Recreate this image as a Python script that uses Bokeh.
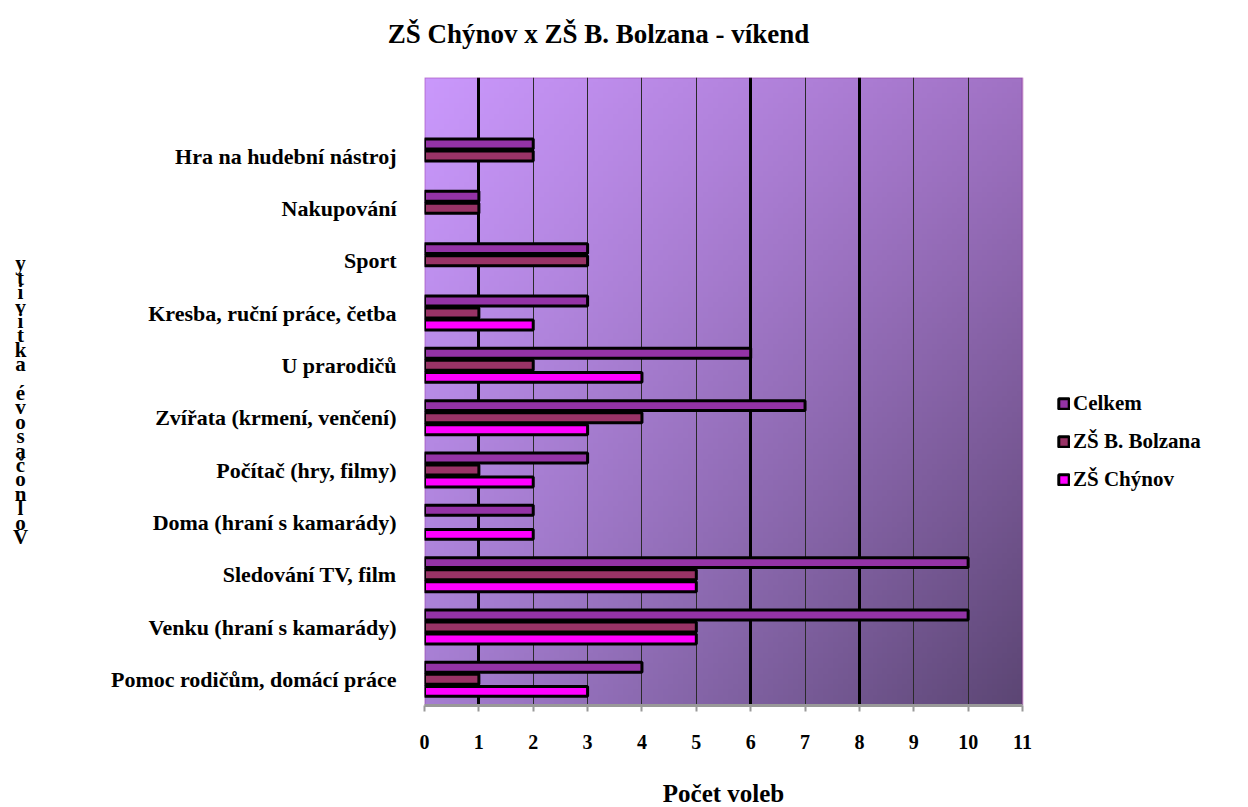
import numpy as np
from bokeh.plotting import figure
from bokeh.layouts import column, row
from bokeh.models import (ColumnDataSource, FixedTicker, Grid, Legend, LegendItem, Label,
                          BoxAnnotation)
from bokeh.embed import file_html
from bokeh.resources import INLINE

# ---- data (bottom to top) ----
categories = ["Pomoc rodičům, domácí práce", "Venku (hraní s kamarády)", "Sledování TV, film",
              "Doma (hraní s kamarády)", "Počítač (hry, filmy)", "Zvířata (krmení, venčení)",
              "U prarodičů", "Kresba, ruční práce, četba", "Sport", "Nakupování",
              "Hra na hudební nástroj"]
celkem = [4, 10, 10, 2, 3, 7, 6, 3, 3, 1, 2]
bolzana = [1, 5, 5, 0, 1, 4, 2, 1, 3, 1, 2]
chynov = [3, 5, 5, 2, 2, 3, 4, 2, 0, 0, 0]
series_names = ["Celkem", "ZŠ B. Bolzana", "ZŠ Chýnov"]
x_ticks = list(range(0, 12))
title_text = "ZŠ Chýnov x ZŠ B. Bolzana - víkend"
x_title = "Počet voleb"
y_title = "Volnočasové aktivity"

FONT = "Liberation Serif"
colors = ["#9433a6", "#993366", "#ff00ff"]
offsets = [0.23, 0.0, -0.23]

TOTAL_W = 1240
TITLE_H = 73
LEFT_W = 40
MAIN_H = 690
BOTTOM_H = 807 - TITLE_H - MAIN_H
MAIN_W = TOTAL_W - LEFT_W
BORDER_L = 384
PLOT_W = 598          # pixel width of the 0..11 plot area
PLOT_H = 628
X_MAX = 11

def strip(w, h):
    f = figure(width=w, height=h, x_range=(0, w), y_range=(0, h),
               x_axis_type=None, y_axis_type=None, output_backend="svg",
               toolbar_location=None, min_border=0)
    f.outline_line_color = None
    return f

# ---- title strip ----
tf = strip(TOTAL_W, TITLE_H)
tf.add_layout(Label(x=598, y=TITLE_H - 33, text=title_text, text_align="center",
                    text_baseline="middle", text_font=FONT, text_font_style="bold",
                    text_font_size="27px", text_color="black"))

# ---- left strip with stacked y title ----
lf = strip(LEFT_W, MAIN_H)
stacked = "\n".join(reversed(list(y_title)))
lf.add_layout(Label(x=20, y=MAIN_H - (264 - TITLE_H), text=stacked, text_align="center",
                    text_baseline="top", text_font=FONT, text_font_style="bold",
                    text_font_size="21px", text_color="black", text_line_height=0.6))

# ---- bottom strip with x title ----
bf = strip(TOTAL_W, BOTTOM_H)
bf.add_layout(Label(x=LEFT_W + BORDER_L + PLOT_W / 2, y=BOTTOM_H - (793 - TITLE_H - MAIN_H),
                    text=x_title, text_align="center", text_baseline="middle",
                    text_font=FONT, text_font_style="bold", text_font_size="25px",
                    text_color="black"))

# ---- main chart ----
frame_w = MAIN_W - BORDER_L
x_end = X_MAX * frame_w / PLOT_W
p = figure(width=MAIN_W, height=MAIN_H, x_range=(0, x_end), y_range=(-0.5, 11.5),
           output_backend="svg", toolbar_location=None,
           min_border_left=BORDER_L, min_border_right=0, min_border_top=4,
           min_border_bottom=MAIN_H - 4 - PLOT_H)
p.outline_line_color = None
p.background_fill_color = "white"

# gradient background of the plot area
H, W = 120, 120
img = np.empty((H, W), dtype=np.uint32)
view = img.view(dtype=np.uint8).reshape((H, W, 4))
TL = np.array([202, 152, 252]); TR = np.array([160, 114, 196])
BL = np.array([166, 126, 210]); BR = np.array([92, 70, 116])
u = np.linspace(0, 1, W)[None, :, None]
v = np.linspace(0, 1, H)[:, None, None]  # 0 bottom, 1 top
top = TL * (1 - u) + TR * u
bot = BL * (1 - u) + BR * u
col = bot * (1 - v) + top * v
view[:, :, :3] = col.astype(np.uint8)
view[:, :, 3] = 255
p.image_rgba(image=[img], x=0, y=-0.5, dw=X_MAX, dh=12, level="image")

# grids
p.xgrid.ticker = FixedTicker(ticks=[t for t in x_ticks if t not in (0, 1, 6, 8, 11)])
p.xgrid.grid_line_color = "#2a2a2a"
p.xgrid.grid_line_width = 1
p.ygrid.visible = False
p.add_layout(Grid(dimension=0, ticker=FixedTicker(ticks=[1, 6, 8]),
                  grid_line_color="black", grid_line_width=3))

# plot-area border
p.add_layout(BoxAnnotation(left=0, right=X_MAX, bottom=-0.5, top=11.5, fill_alpha=0,
                           line_color="#800080", line_width=2, level="underlay"))

# bars
items = []
for name, vals, c, off in zip(series_names, [celkem, bolzana, chynov], colors, offsets):
    ys = [i + off for i, val in enumerate(vals) if val > 0]
    rs = [val for val in vals if val > 0]
    src = ColumnDataSource(dict(y=ys, right=rs))
    r = p.hbar(y="y", left=0, right="right", height=0.19, source=src,
               fill_color=c, line_color="black", line_width=3)
    items.append(LegendItem(label=name, renderers=[r]))

legend = Legend(items=items, location=(633, 213), background_fill_alpha=0,
                border_line_color=None, padding=0, margin=0, spacing=13,
                glyph_width=13, glyph_height=13, label_standoff=3,
                label_text_font=FONT, label_text_font_style="bold",
                label_text_font_size="21px", label_height=20, label_text_color="black")
p.add_layout(legend)

# x axis
xa = p.xaxis[0]
xa.ticker = FixedTicker(ticks=x_ticks)
xa.bounds = (0, X_MAX)
xa.axis_line_color = "#999999"
xa.axis_line_width = 3
xa.major_tick_line_color = "#999999"
xa.major_tick_line_width = 2
xa.major_tick_in = 0
xa.major_tick_out = 6
xa.minor_tick_line_color = None
xa.major_label_text_font = FONT
xa.major_label_text_font_style = "bold"
xa.major_label_text_font_size = "20px"
xa.major_label_text_color = "black"
xa.major_label_standoff = 23

# y axis
ya = p.yaxis[0]
ya.ticker = FixedTicker(ticks=list(range(len(categories))))
ya.major_label_overrides = {i: c for i, c in enumerate(categories)}
ya.axis_line_color = None
ya.major_tick_line_color = None
ya.minor_tick_line_color = None
ya.major_label_text_font = FONT
ya.major_label_text_font_style = "bold"
ya.major_label_text_font_size = "22px"
ya.major_label_text_color = "black"
ya.major_label_standoff = 22

layout = column(tf, row(lf, p), bf)
open("out.html", "w").write(file_html(layout, INLINE))
